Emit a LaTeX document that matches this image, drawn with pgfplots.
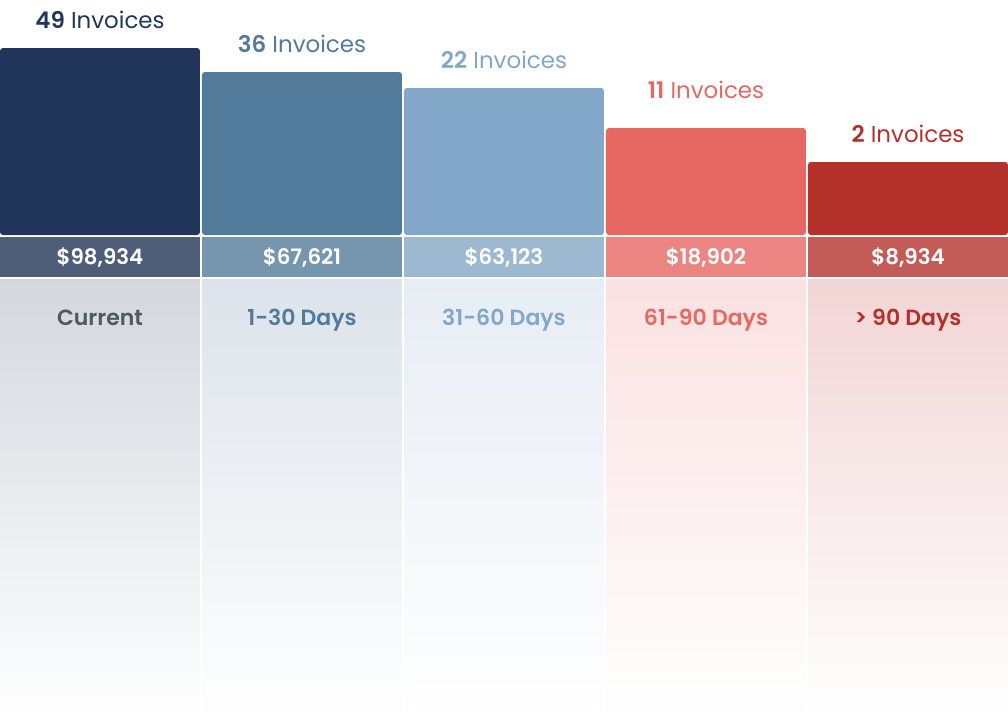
\documentclass[border=0pt]{standalone}
\usepackage{fontspec}
\setmainfont{Poppins}[BoldFont={Poppins SemiBold}]
\usepackage{pgfplots}
\pgfplotsset{compat=1.18}

% colours per column: bar, band, gradient top, category text
\definecolor{barA}{HTML}{22355A}\definecolor{bandA}{HTML}{4E5D78}\definecolor{gradA}{HTML}{D4D7DE}\definecolor{catA}{HTML}{4D5A62}
\definecolor{barB}{HTML}{527A9B}\definecolor{bandB}{HTML}{7696B0}\definecolor{gradB}{HTML}{DCE3EA}
\definecolor{barC}{HTML}{82A7C8}\definecolor{bandC}{HTML}{9DB9D1}\definecolor{gradC}{HTML}{E7EDF4}
\definecolor{barD}{HTML}{E76862}\definecolor{bandD}{HTML}{EC8581}\definecolor{gradD}{HTML}{FBE1E1}
\definecolor{barE}{HTML}{B3302B}\definecolor{bandE}{HTML}{C35B56}\definecolor{gradE}{HTML}{F2D5D5}

% 1px = 0.75pt
\pgfplotsset{
  col/.style={hide axis, x=151.5pt, y=0.75pt, xmin=-0.495, xmax=4.495,
    enlargelimits=false, ybar, bar width=150pt, bar shift=0pt,
    anchor=north west},
  toplab/.style={nodes near coords={#1},
    every node near coord/.append style={anchor=base, yshift=15pt,
      font=\fontsize{17.2}{20}\selectfont}},
  vallab/.style={nodes near coords={#1},
    every node near coord/.append style={anchor=base, yshift=-20.25pt,
      text=white, font=\fontsize{16}{18}\selectfont\bfseries}},
  catlab/.style={nodes near coords={#1},
    every node near coord/.append style={anchor=base, yshift=-34.5pt,
      font=\fontsize{16.5}{18}\selectfont\bfseries}},
}

\begin{document}
\begin{tikzpicture}
% bars (heights in px, +10 so the rounded base is clipped)
\begin{axis}[col, ymin=10, ymax=245, at={(0,0)}]
  \addplot[fill=barA, draw=none, rounded corners=2.25pt, toplab={\textbf{49} Invoices}, every node near coord/.append style={text=barA}] coordinates {(0,197)};
  \addplot[fill=barB, draw=none, rounded corners=2.25pt, toplab={\textbf{36} Invoices}, every node near coord/.append style={text=barB}] coordinates {(1,173)};
  \addplot[fill=barC, draw=none, rounded corners=2.25pt, toplab={\textbf{22} Invoices}, every node near coord/.append style={text=barC}] coordinates {(2,157)};
  \addplot[fill=barD, draw=none, rounded corners=2.25pt, toplab={\textbf{11} Invoices}, every node near coord/.append style={text=barD, yshift=7.5pt}] coordinates {(3,117)};
  \addplot[fill=barE, draw=none, rounded corners=2.25pt, toplab={\textbf{2} Invoices}, every node near coord/.append style={text=barE}] coordinates {(4,83)};
\end{axis}
% amount band
\begin{axis}[col, ymin=0, ymax=40, at={(0,-177.75pt)}]
  \addplot[fill=bandA, draw=none, vallab={\$98,934}] coordinates {(0,40)};
  \addplot[fill=bandB, draw=none, vallab={\$67,621}] coordinates {(1,40)};
  \addplot[fill=bandC, draw=none, vallab={\$63,123}] coordinates {(2,40)};
  \addplot[fill=bandD, draw=none, vallab={\$18,902}] coordinates {(3,40)};
  \addplot[fill=bandE, draw=none, vallab={\$8,934}] coordinates {(4,40)};
\end{axis}
% fading category columns
\begin{axis}[col, ymin=0, ymax=440, at={(0,-209.25pt)}]
  \addplot[top color=gradA, bottom color=white, draw=none, catlab={Current}, every node near coord/.append style={text=catA}] coordinates {(0,440)};
  \addplot[top color=gradB, bottom color=white, draw=none, catlab={1-30 Days}, every node near coord/.append style={text=barB}] coordinates {(1,440)};
  \addplot[top color=gradC, bottom color=white, draw=none, catlab={31-60 Days}, every node near coord/.append style={text=barC}] coordinates {(2,440)};
  \addplot[top color=gradD, bottom color=white, draw=none, catlab={61-90 Days}, every node near coord/.append style={text=barD}] coordinates {(3,440)};
  \addplot[top color=gradE, bottom color=white, draw=none, catlab={> 90 Days}, every node near coord/.append style={text=barE}] coordinates {(4,440)};
\end{axis}
\pgfresetboundingbox
\path[use as bounding box] (0,0) rectangle (756pt,-539.25pt);
\end{tikzpicture}
\end{document}
